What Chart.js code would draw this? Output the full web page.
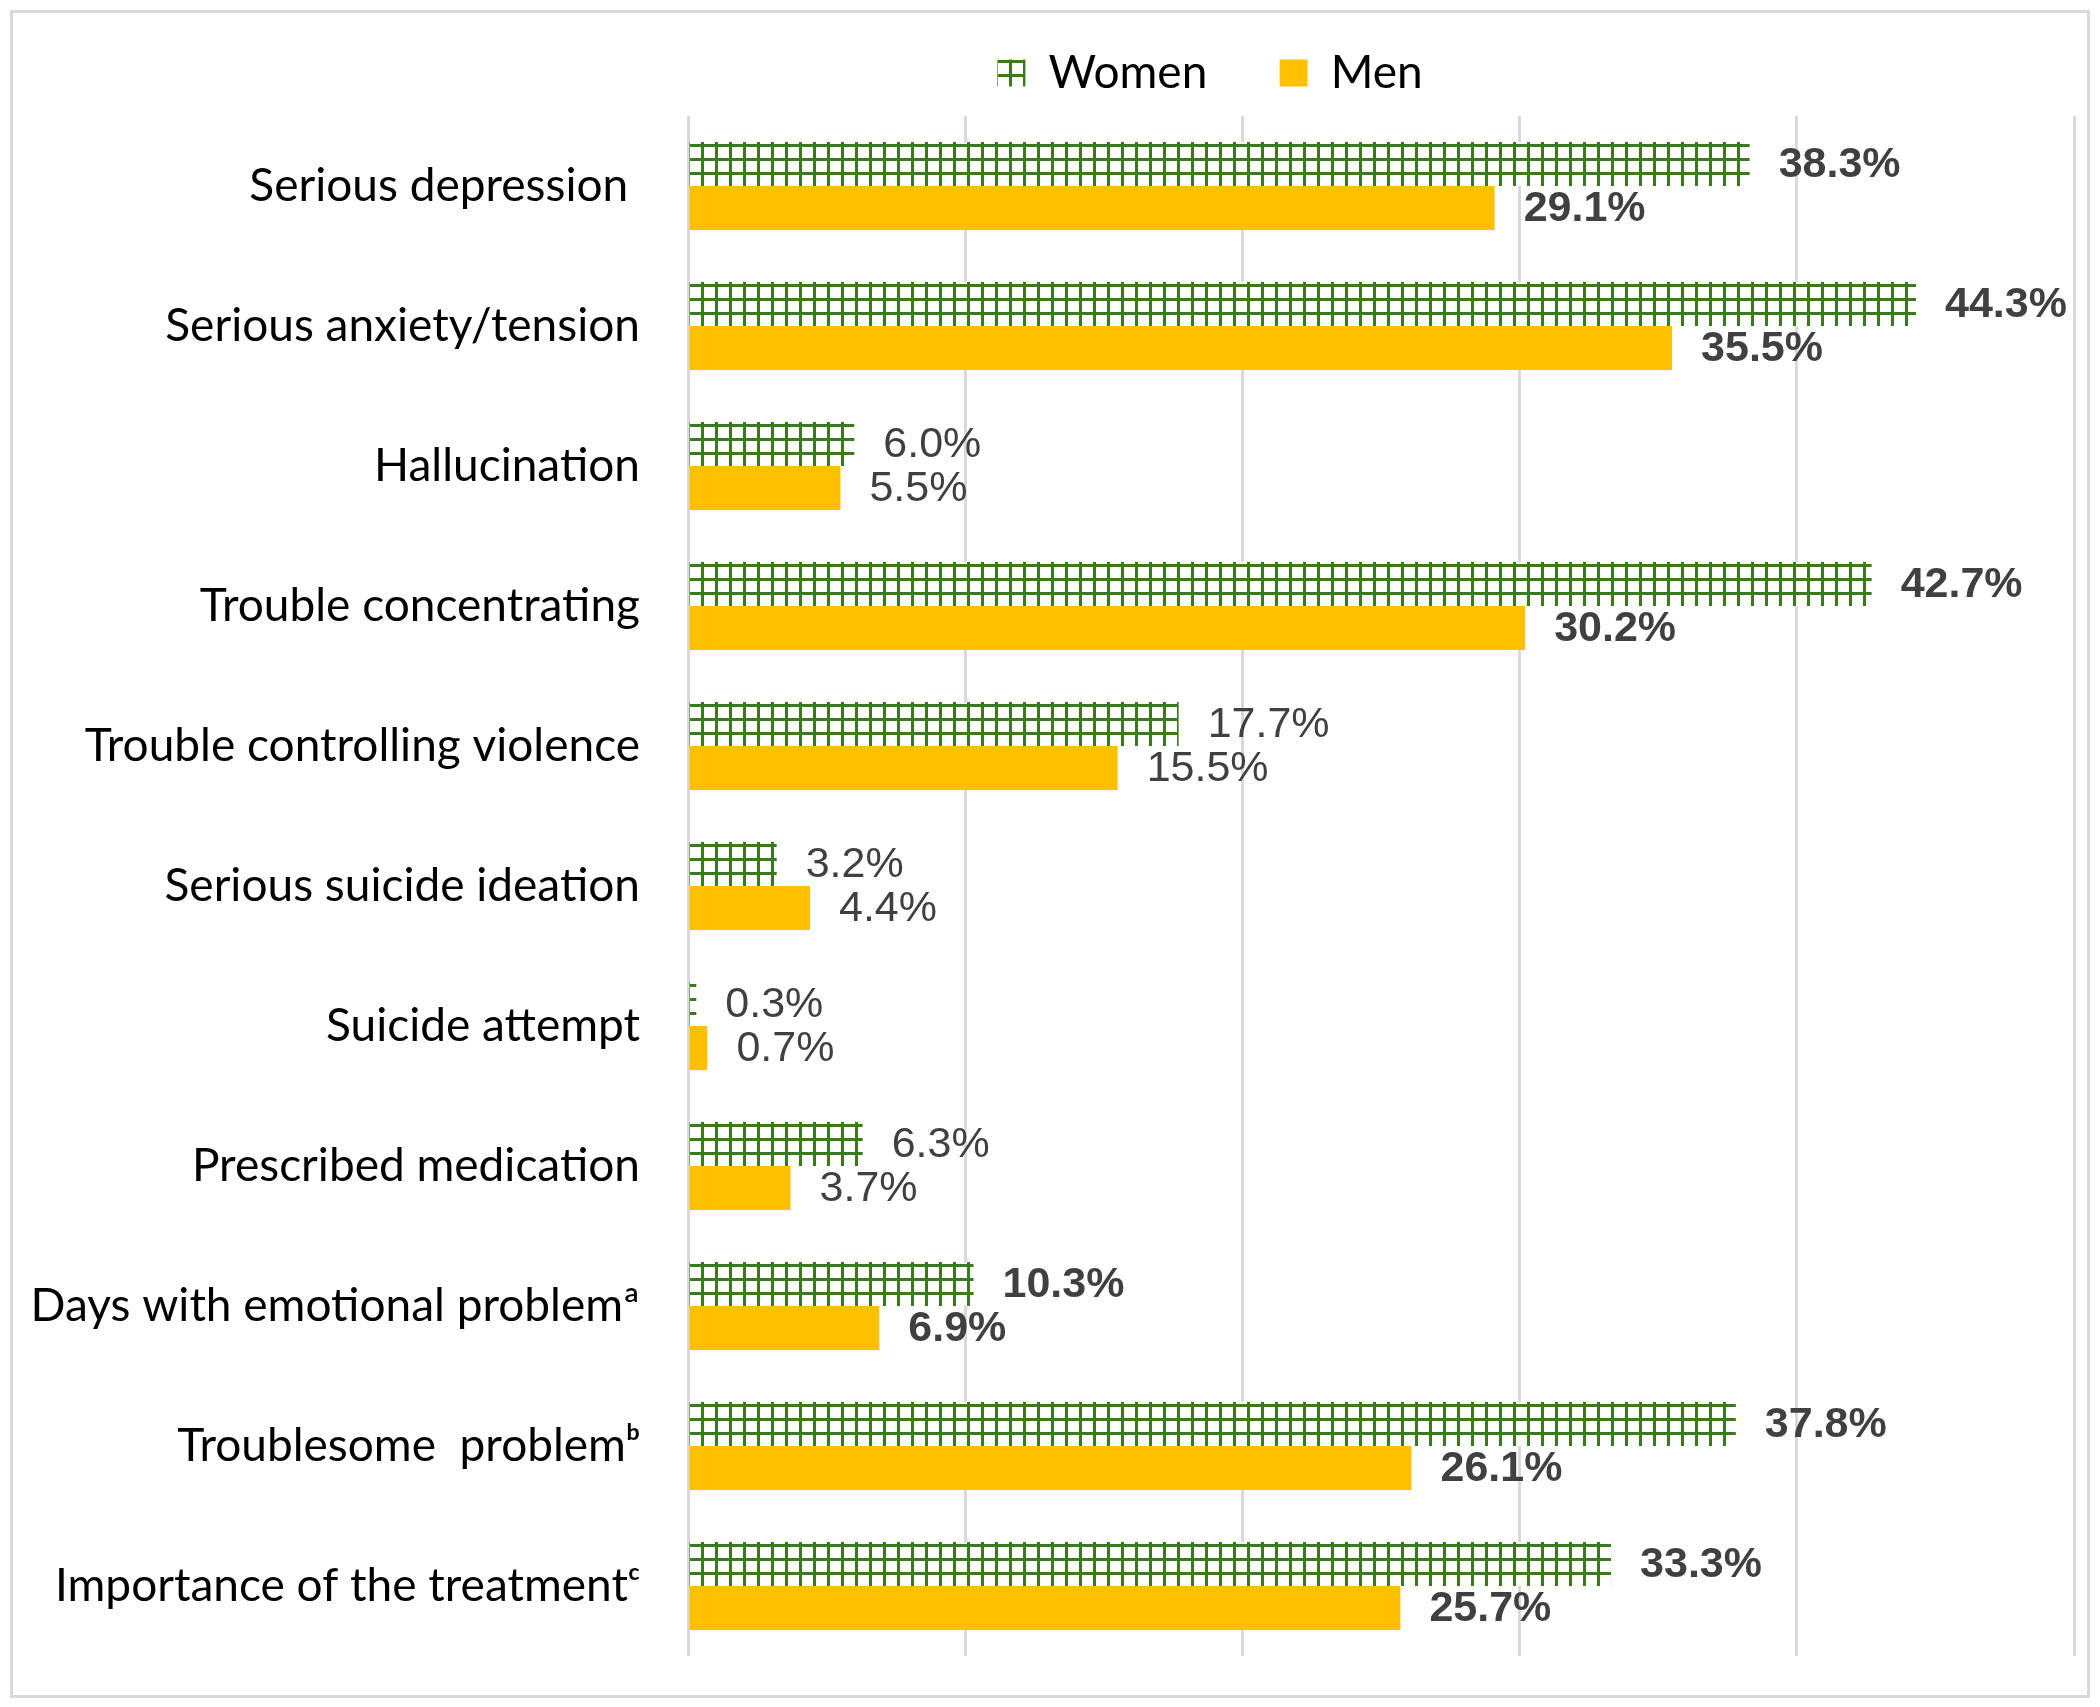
<!DOCTYPE html>
<html>
<head>
<meta charset="utf-8">
<title>Women vs Men</title>
<script src="https://cdn.jsdelivr.net/npm/chart.js@4.4.0/dist/chart.umd.min.js"></script>
<style>
    html, body { margin: 0; padding: 0; background: #ffffff; }
    #wrap { position: relative; width: 2100px; height: 1707px; }
    #frame { position: absolute; left: 10px; top: 10px; width: 2074px; height: 1682px;
             border: 3px solid #d9d9d9; pointer-events: none; }
</style>
</head>
<body>
<div id="wrap">
    <canvas id="myChart" width="2100" height="1707"></canvas>
    <div id="frame"></div>
</div>
<script>
// Chart Data
var categories = [
    'Serious depression ',
    'Serious anxiety/tension',
    'Hallucination',
    'Trouble concentrating',
    'Trouble controlling violence',
    'Serious suicide ideation',
    'Suicide attempt',
    'Prescribed medication',
    'Days with emotional problem\u00aa',
    'Troublesome  problem\u1d47',
    'Importance of the treatment\u1d9c'
];
var women = [38.3, 44.3, 6.0, 42.7, 17.7, 3.2, 0.3, 6.3, 10.3, 37.8, 33.3];
var men = [29.1, 35.5, 5.5, 30.2, 15.5, 4.4, 0.7, 3.7, 6.9, 26.1, 25.7];
// rows whose value labels are printed in bold
var boldRows = [0, 1, 3, 8, 9, 10];
var xTicks = [0, 10, 20, 30, 40, 50];

var ctx = document.getElementById('myChart').getContext('2d');

function makeGridPattern() {
    var c = document.createElement('canvas');
    c.width = 14;
    c.height = 14;
    var g = c.getContext('2d');
    g.fillStyle = '#ffffff';
    g.fillRect(0, 0, 14, 14);
    g.fillStyle = '#3a7a1f';
    g.fillRect(0, 0, 3, 14);
    g.fillRect(0, 0, 14, 3);
    var p = ctx.createPattern(c, 'repeat');
    if (p.setTransform) {
        p.setTransform(new DOMMatrix().translate(1, 4));
    }
    return p;
}

var valueLabels = {
    id: 'valueLabels',
    afterDatasetsDraw: function(chart) {
        var c = chart.ctx;
        c.save();
        c.fillStyle = '#404040';
        c.textAlign = 'left';
        c.textBaseline = 'middle';
        chart.data.datasets.forEach(function(ds, di) {
            var meta = chart.getDatasetMeta(di);
            meta.data.forEach(function(bar, i) {
                var bold = boldRows.indexOf(i) >= 0;
                c.font = (bold ? 'bold ' : '') + '43px "Liberation Sans", Arial, sans-serif';
                c.fillText(ds.data[i].toFixed(1) + '%', bar.x + 29, bar.y + 1);
            });
        });
        c.restore();
    }
};

// legend sits centred over the right part of the figure, not the whole width
var legendShift = {
    id: 'legendShift',
    afterLayout: function(chart) {
        if (chart.legend) {
            chart.legend.left = 346;
        }
    }
};

var myChart = new Chart(ctx, {
    type: 'bar',
    data: {
        labels: categories,
        datasets: [
            {
                label: 'Women   ',
                data: women,
                backgroundColor: makeGridPattern(),
                borderWidth: 0,
                categoryPercentage: 0.63,
                barPercentage: 1.0
            },
            {
                label: 'Men',
                data: men,
                backgroundColor: '#ffc000',
                borderWidth: 0,
                categoryPercentage: 0.63,
                barPercentage: 1.0
            }
        ]
    },
    options: {
        indexAxis: 'y',
        responsive: false,
        animation: false,
        devicePixelRatio: 1,
        layout: {
            padding: { left: 0, right: 26, top: 13, bottom: 51 }
        },
        plugins: {
            legend: {
                position: 'top',
                labels: {
                    boxWidth: 28,
                    boxHeight: 27,
                    padding: 37,
                    color: '#000000',
                    font: { family: 'Lato', size: 46 }
                }
            },
            tooltip: { enabled: false }
        },
        scales: {
            x: {
                position: 'top',
                min: 0,
                max: 50,
                afterBuildTicks: function(scale) {
                    scale.ticks = xTicks.map(function(v) { return { value: v }; });
                },
                afterFit: function(scale) {
                    // empty strip between legend and plot
                    scale.height = 10;
                },
                ticks: { display: false },
                grid: { color: '#d9d9d9', lineWidth: 3, drawTicks: false },
                border: { display: false }
            },
            y: {
                afterFit: function(scale) {
                    scale.width = 688;
                    scale.paddingTop = 0;
                    scale.paddingBottom = 0;
                },
                ticks: {
                    padding: 0,
                    color: '#000000',
                    font: { family: 'Lato', size: 46 }
                },
                grid: { display: false, drawTicks: true, tickLength: 48 },
                border: { display: false }
            }
        }
    },
    plugins: [valueLabels, legendShift]
});
</script>
</body>
</html>
